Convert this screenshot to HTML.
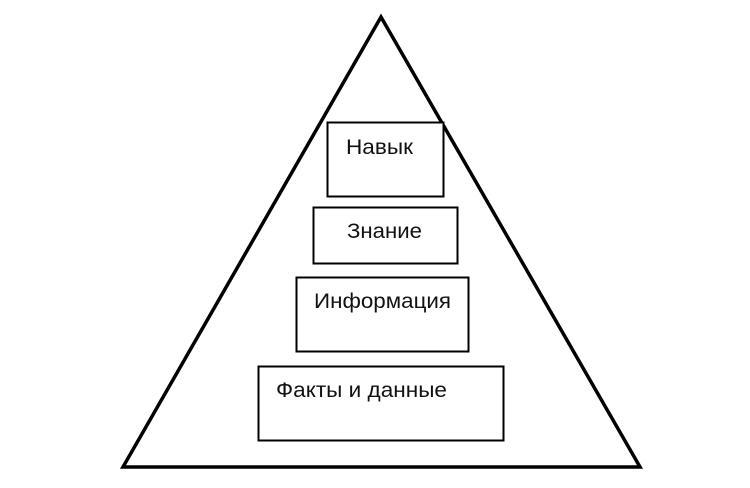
<!DOCTYPE html>
<html><head><meta charset="utf-8"><style>
html,body{margin:0;padding:0;background:#fff;width:750px;height:488px;overflow:hidden}
svg{display:block}
text{font-family:"Liberation Sans",sans-serif;font-size:21px;fill:#111}
</style></head><body>
<svg width="750" height="488" viewBox="0 0 750 488" xmlns="http://www.w3.org/2000/svg">
<polygon points="381,17 123,467 640,467" fill="none" stroke="#000" stroke-width="3.5" stroke-linejoin="miter"/>
<g fill="#fff" stroke="#000" stroke-width="2">
<rect x="327.5" y="122.5" width="116" height="74"/>
<rect x="313.5" y="207.5" width="144" height="56"/>
<rect x="296.5" y="277.5" width="172" height="74"/>
<rect x="258.5" y="366.5" width="245" height="74"/>
</g>
<text x="346" y="154" textLength="67" lengthAdjust="spacingAndGlyphs">Навык</text>
<text x="347" y="238" textLength="75" lengthAdjust="spacingAndGlyphs">Знание</text>
<text x="314" y="308" textLength="137" lengthAdjust="spacingAndGlyphs">Информация</text>
<text x="276" y="397" textLength="171" lengthAdjust="spacingAndGlyphs">Факты и данные</text>
</svg>
</body></html>
